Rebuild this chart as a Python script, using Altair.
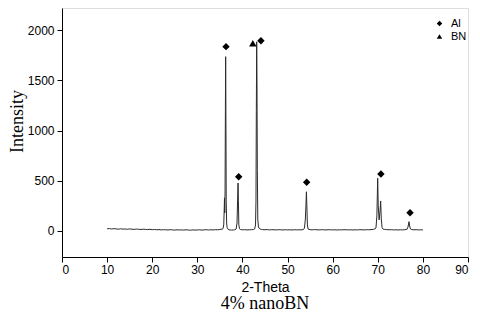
import altair as alt
import pandas as pd

# XRD pattern (2-Theta in degrees, intensity in counts)
two_theta = [
    10.0, 10.5, 11.0, 11.5, 12.0, 12.5, 13.0, 13.5, 14.0, 14.5, 15.0, 15.5,
    16.0, 16.5, 17.0, 17.5, 18.0, 18.5, 19.0, 19.5, 20.0, 20.5, 21.0, 21.5,
    22.0, 22.5, 23.0, 23.5, 24.0, 24.5, 25.0, 25.5, 26.0, 26.5, 27.0, 27.5,
    28.0, 28.5, 29.0, 29.5, 30.0, 30.5, 31.0, 31.5, 32.0, 32.5, 33.0, 33.5,
    34.0, 34.5, 35.0, 35.5,
    35.7, 35.85, 35.95, 36.02, 36.08, 36.15, 36.22, 36.28, 36.34, 36.4, 36.5,
    36.6, 36.8, 37.0, 37.3, 37.6, 38.0, 38.3, 38.6, 38.8, 38.95, 39.03, 39.1,
    39.2, 39.35, 39.6, 40.0, 40.5, 41.0, 41.5, 42.0, 42.5,
    42.7, 42.9, 43.0, 43.08, 43.16, 43.22, 43.3, 43.4, 43.55, 43.8, 44.2,
    44.5, 45.0, 45.5, 46.0, 46.5, 47.0, 47.5, 48.0, 48.5, 49.0, 49.5, 50.0,
    50.5, 51.0, 51.5, 52.0, 52.5, 53.0, 53.5,
    53.75, 53.95, 54.08, 54.18, 54.28, 54.4, 54.55,
    55.0, 55.5, 56.0, 56.5, 57.0, 57.5, 58.0, 58.5, 59.0, 59.5, 60.0, 60.5,
    61.0, 61.5, 62.0, 62.5, 63.0, 63.5, 64.0, 64.5, 65.0, 65.5, 66.0, 66.5,
    67.0, 67.5, 68.0, 68.5, 69.0, 69.4,
    69.6, 69.8, 69.98, 70.1, 70.3, 70.5, 70.64, 70.78, 70.95, 71.2,
    71.5, 72.0, 72.5, 73.0, 73.5, 74.0, 74.5, 75.0, 75.5, 76.0, 76.5,
    76.7, 76.92, 77.1, 77.3,
    77.5, 78.0, 78.5, 79.0, 79.5, 80.0,
]
intensity = [
    22, 24, 20, 23, 21, 18, 22, 19, 20, 17, 21, 18,
    16, 19, 17, 15, 18, 16, 14, 17, 13, 15, 12, 14,
    11, 13, 12, 10, 13, 11, 9, 12, 10, 11, 9, 12,
    10, 8, 11, 9, 10, 12, 9, 11, 13, 10, 12, 11,
    13, 12, 15, 19,
    24, 60, 200, 330, 180, 400, 1200, 1736, 1100, 300, 80,
    35, 18, 12, 10, 9, 10, 12, 20, 80, 350, 478, 300,
    60, 22, 14, 12, 13, 11, 12, 13, 15,
    20, 60, 300, 1200, 1885, 1500, 600, 120, 40, 22, 15,
    14, 12, 14, 11, 13, 12, 11, 13, 12, 10, 13, 11,
    12, 10, 13, 11, 12, 11, 14,
    30, 120, 260, 391, 250, 60, 20,
    13, 12, 14, 12, 11, 13, 12, 10, 13, 12, 11, 12,
    10, 12, 11, 13, 12, 11, 12, 10, 12, 11, 13, 12,
    11, 13, 12, 14, 16, 22,
    30, 150, 525, 250, 110, 200, 299, 120, 35, 18,
    16, 14, 12, 13, 11, 12, 10, 12, 11, 13, 18,
    40, 93, 40, 18,
    14, 12, 13, 11, 12, 11,
]

# Phase markers
marker_x = [36.36, 39.17, 42.3, 44.1, 54.24, 70.7, 77.15]
marker_y = [1836, 541, 1870, 1895, 485, 568, 182]
marker_phase = ["Al", "Al", "BN", "Al", "Al", "Al", "Al"]

x_ticks = [0, 5, 10, 15, 20, 25, 30, 35, 40, 45, 50, 55, 60, 65, 70, 75, 80, 85, 90]
y_ticks = [0, 250, 500, 750, 1000, 1250, 1500, 1750, 2000]

pattern = pd.DataFrame({"theta": two_theta, "intensity": intensity})
markers = pd.DataFrame({"theta": marker_x, "intensity": marker_y, "phase": marker_phase})

x_scale = alt.Scale(domain=[0, 90], nice=False, zero=False)
y_scale = alt.Scale(domain=[-259, 2221], nice=False, zero=False)

x_axis = alt.Axis(
    values=x_ticks,
    labelExpr="datum.value % 10 === 0 ? datum.label : ''",
    labelOverlap=False,
    tickSize={"condition": {"test": "datum.value % 10 === 0", "value": 5}, "value": 3},
    grid=False,
    title="2-Theta",
    titleFont="Liberation Sans",
    titleFontSize=14,
    titleFontWeight="normal",
    titleColor="#000",
    titleY=34,
    titleBaseline="alphabetic",
    labelFont="Liberation Sans",
    labelFontSize=12,
    labelColor="#000",
    labelPadding=2,
    domainColor="#000",
    tickColor="#000",
)
y_axis = alt.Axis(
    values=y_ticks,
    format="d",
    labelExpr="datum.value % 500 === 0 ? datum.label : ''",
    labelOverlap=False,
    tickSize={"condition": {"test": "datum.value % 500 === 0", "value": 5}, "value": 3},
    grid=False,
    title="Intensity",
    titleFont="Liberation Serif",
    titleFontSize=18,
    titleFontWeight="normal",
    titleColor="#000",
    titleAngle=270,
    titleX=-40,
    titleY=113,
    titleAlign="center",
    titleBaseline="alphabetic",
    labelFont="Liberation Sans",
    labelFontSize=12,
    labelColor="#000",
    labelPadding=3,
    domainColor="#000",
    tickColor="#000",
)

line = alt.Chart(pattern).mark_line(color="#2a2a2a", strokeWidth=1).encode(
    x=alt.X("theta:Q", scale=x_scale, axis=x_axis),
    y=alt.Y("intensity:Q", scale=y_scale, axis=y_axis),
)

points = alt.Chart(markers).mark_point(filled=True, opacity=1, size=55).encode(
    x=alt.X("theta:Q", scale=x_scale),
    y=alt.Y("intensity:Q", scale=y_scale),
    shape=alt.Shape(
        "phase:N",
        scale=alt.Scale(domain=["Al", "BN"], range=["diamond", "triangle-up"]),
        legend=alt.Legend(
            title=None,
            orient="none",
            legendX=372,
            legendY=10,
            padding=0,
            symbolSize=30,
            symbolFillColor="#000",
            symbolStrokeColor="#000",
            labelFont="Liberation Sans",
            labelFontSize=11,
            labelColor="#000",
            labelOffset=6,
            rowPadding=0,
        ),
    ),
    color=alt.value("#000"),
)

chart = (
    alt.layer(line, points)
    .properties(
        width=406,
        height=249,
        autosize=alt.AutoSizeParams(type="none"),
        padding={"left": 54, "top": 0, "right": 4, "bottom": 56},
        title=alt.TitleParams(
            text="4% nanoBN",
            orient="bottom",
            anchor="middle",
            font="Liberation Serif",
            fontSize=18,
            fontWeight="normal",
            color="#000",
            offset=1,
        ),
    )
    .configure_view(stroke="#000", strokeWidth=1)
    .configure(background="white")
)

chart.save("out.html", embed_options={"renderer": "svg", "actions": False})
